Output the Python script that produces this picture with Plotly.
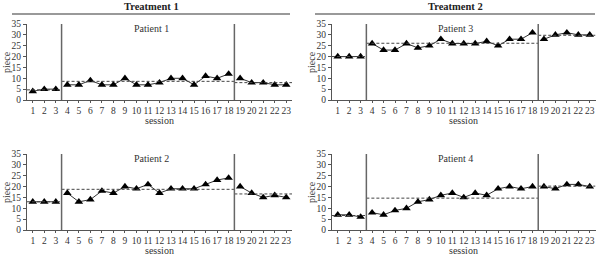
import plotly.graph_objects as go
import numpy as np

sessions = list(range(1, 24))
phase_a = [1, 2, 3]
phase_b = list(range(4, 19))
phase_c = list(range(19, 24))

patient1 = [4, 5, 5,
            7, 7, 9, 7, 7, 10, 7, 7, 8, 10, 10, 7, 11, 10, 12,
            10, 8, 8, 7, 7]
patient2 = [13, 13, 13,
            17, 13, 14, 18, 17, 20, 19, 21, 17, 19, 19, 19, 21, 23, 24,
            20, 17, 15, 16, 15]
patient3 = [20, 20, 20,
            26, 23, 23, 26, 24, 25, 28, 26, 26, 26, 27, 25, 28, 28, 31,
            28, 30, 31, 30, 30]
patient4 = [7, 7, 6,
            8, 7, 9, 10, 13, 14, 16, 17, 15, 17, 16, 19, 20, 19, 20,
            20, 19, 21, 21, 20]

patients = [("Patient 1", patient1), ("Patient 3", patient3),
            ("Patient 2", patient2), ("Patient 4", patient4)]
yticks = [0, 5, 10, 15, 20, 25, 30, 35]

W, H = 600, 261
def px(v): return v / W
def py(v): return 1 - v / H

xdoms = [[px(27), px(292)], [px(332), px(595.5)]]
ydoms = [[py(100), py(24)], [py(230), py(154)]]

FONT = "Liberation Serif"
TXT = "#333333"
AX = "#555555"
FS = 9.5

fig = go.Figure()
layout = dict(width=W, height=H, margin=dict(l=0, r=0, t=0, b=0),
              paper_bgcolor="white", plot_bgcolor="white", showlegend=False,
              font=dict(family=FONT, size=FS, color=TXT))
shapes = []
annotations = []

for i, (name, vals) in enumerate(patients):
    col = i % 2
    row = i // 2
    k = i + 1
    xa = "x" if k == 1 else f"x{k}"
    ya = "y" if k == 1 else f"y{k}"
    for ph in (phase_a, phase_b, phase_c):
        yv = [vals[s - 1] for s in ph]
        fig.add_trace(go.Scatter(x=ph, y=yv, mode="lines+markers",
                                 line=dict(color="#333333", width=1),
                                 marker=dict(symbol="triangle-up", size=7.5, color="black"),
                                 xaxis=xa, yaxis=ya))
        m = float(np.mean(yv))
        shapes.append(dict(type="line", xref=xa, yref=ya, x0=ph[0] - 0.5, x1=ph[-1] + 0.5,
                           y0=m, y1=m, line=dict(color="#444444", width=1, dash="3px,2px")))
    for b in (3.5, 18.5):
        shapes.append(dict(type="line", xref=xa, yref=ya, x0=b, x1=b, y0=0, y1=35,
                           line=dict(color="#666666", width=1.5)))
    layout["xaxis" if k == 1 else f"xaxis{k}"] = dict(
        domain=xdoms[col], anchor=ya, range=[0.5, 23.5], tickvals=sessions,
        ticktext=[str(s) for s in sessions], ticks="outside", ticklen=2,
        tickangle=0, tickcolor=AX, showline=True, linecolor=AX, linewidth=1, showgrid=False,
        zeroline=False, automargin=False, tickfont=dict(family=FONT, size=FS, color=TXT))
    layout["yaxis" if k == 1 else f"yaxis{k}"] = dict(
        domain=ydoms[row], anchor=xa, range=[0, 35], tickvals=yticks,
        ticks="outside", ticklen=3, tickcolor=AX, showline=True, linecolor=AX,
        linewidth=1, showgrid=False, zeroline=False, automargin=False,
        tickfont=dict(family=FONT, size=FS, color=TXT))
    annotations.append(dict(text=name, xref=xa, yref=ya, x=11.3, y=33, showarrow=False,
                            font=dict(family=FONT, size=FS + 0.5, color=TXT)))
    ax_left = [27, 332][col]
    annotations.append(dict(text="piece", xref="paper", yref="paper",
                            x=px(ax_left - 21), y=(ydoms[row][0] + ydoms[row][1]) / 2,
                            textangle=-90, showarrow=False, xanchor="center", yanchor="middle",
                            font=dict(family=FONT, size=FS + 0.5, color=TXT)))
    annotations.append(dict(text="session", xref="paper", yref="paper",
                            x=(xdoms[col][0] + xdoms[col][1]) / 2,
                            y=py([120, 250.5][row]), showarrow=False,
                            xanchor="center", yanchor="middle",
                            font=dict(family=FONT, size=FS + 0.5, color=TXT)))

for title, x0, x1 in (("Treatment 1", 12, 290), ("Treatment 2", 315, 595)):
    shapes.append(dict(type="line", xref="paper", yref="paper", x0=px(x0), x1=px(x1),
                       y0=py(14), y1=py(14), line=dict(color="#777777", width=1.5)))
    annotations.append(dict(text="<b>" + title + "</b>", xref="paper", yref="paper",
                            x=px((x0 + x1) / 2), y=py(6.5), showarrow=False,
                            xanchor="center", yanchor="middle",
                            font=dict(family=FONT, size=10.5, color="#222222")))

layout["shapes"] = shapes
layout["annotations"] = annotations
fig.update_layout(**layout)
fig.write_html("out.html")
